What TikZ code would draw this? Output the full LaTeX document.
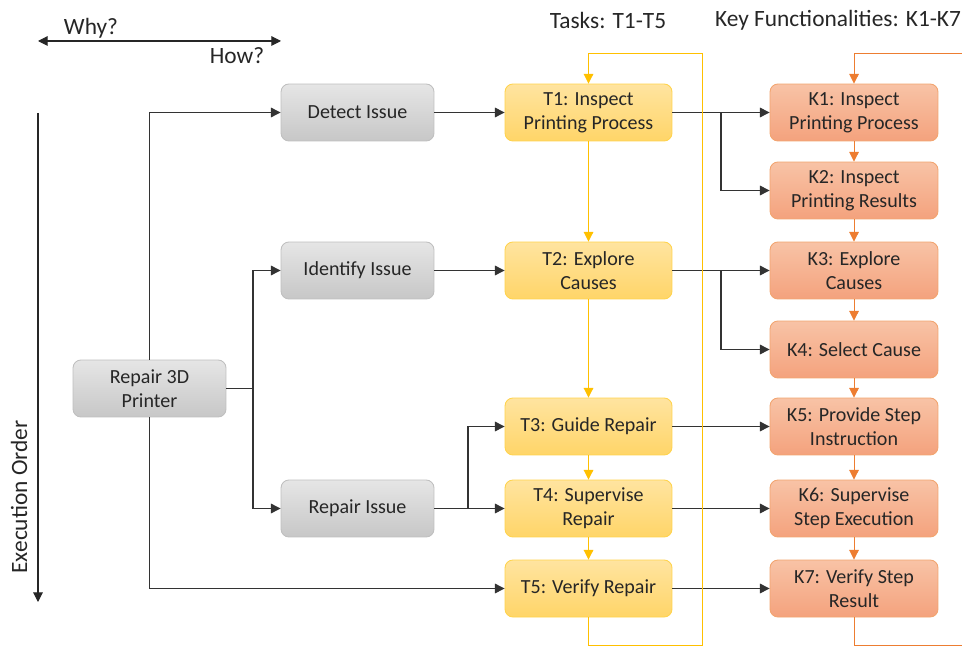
\documentclass[tikz,border=0pt]{standalone}
\usepackage{fontspec}
\setmainfont{Carlito}
\usepackage{tikz}
\usetikzlibrary{arrows.meta}
\tikzset{>={Triangle[length=5.5pt,width=5.5pt]}}

\definecolor{greyedge}{HTML}{BFBFBF}
\definecolor{yedge}{HTML}{FFC000}
\definecolor{oedge}{HTML}{ED7D31}
\definecolor{ytop}{HTML}{FFE4A0}
\definecolor{ybot}{HTML}{FFD568}
\definecolor{otop}{HTML}{F8C3A6}
\definecolor{obot}{HTML}{F4A27D}

\tikzstyle{box} = [rounded corners=4.5pt, align=center, minimum height=1.14cm, inner sep=2pt, line width=0.5pt, font=\fontsize{11.4}{13.6}\selectfont, text=black!85]
\tikzstyle{greybox} = [box, draw=greyedge, top color=black!10, bottom color=black!22, minimum width=3.06cm]
\tikzstyle{taskbox} = [box, draw=yedge!70, top color=ytop, bottom color=ybot, minimum width=3.34cm]
\tikzstyle{keybox} = [box, draw=oedge!70, top color=otop, bottom color=obot, minimum width=3.36cm]
\tikzstyle{link} = [->, line width=0.6pt, black!80]
\tikzstyle{ylink} = [->, line width=0.5pt, yedge]
\tikzstyle{olink} = [->, line width=0.5pt, oedge]
\tikzstyle{label} = [font=\fontsize{13.3}{16}\selectfont, text=black!85]

\begin{document}
\begin{tikzpicture}[x=0.02cm, y=-0.02cm]
	\useasboundingbox (0,0) rectangle (962,648);

	% Goal and subgoals
	\node[greybox] (root) at (149.5,388.5) {Repair 3D\\Printer};
	\node[greybox] (detect) at (357.5,112.5) {Detect Issue};
	\node[greybox] (identify) at (357.5,270.5) {Identify Issue};
	\node[greybox] (repair) at (357.5,508.5) {Repair Issue};

	% Tasks
	\node[taskbox] (t1) at (588.5,112.5) {T1: Inspect\\Printing Process};
	\node[taskbox] (t2) at (588.5,270.5) {T2: Explore\\Causes};
	\node[taskbox] (t3) at (588.5,426.5) {T3: Guide Repair};
	\node[taskbox] (t4) at (588.5,508.5) {T4: Supervise\\Repair};
	\node[taskbox] (t5) at (588.5,588.5) {T5: Verify Repair};

	% Key functionalities
	\node[keybox] (k1) at (854,112.5) {K1: Inspect\\Printing Process};
	\node[keybox] (k2) at (854,190.5) {K2: Inspect\\Printing Results};
	\node[keybox] (k3) at (854,270.5) {K3: Explore\\Causes};
	\node[keybox] (k4) at (854,349.5) {K4: Select Cause};
	\node[keybox] (k5) at (854,426.5) {K5: Provide Step\\Instruction};
	\node[keybox] (k6) at (854,508.5) {K6: Supervise\\Step Execution};
	\node[keybox] (k7) at (854,588.5) {K7: Verify Step\\Result};

	% Headings
	\node[label] (tasks) at (608,20) {Tasks: T1-T5};
	\node[label] (keys) at (838,20) {Key Functionalities: K1-K7};

	% Why / How and execution order
	\coordinate (whyend) at (38,41);
	\coordinate (howend) at (281,41);
	\draw[<->, line width=0.6pt, black!85] (whyend) -- (howend);
	\node[label] (why) at (91,28) {Why?};
	\node[label] (how) at (237,56) {How?};
	\coordinate (exectop) at (38,113);
	\coordinate (execbot) at (38,602);
	\draw[->, line width=0.6pt, black!85] (exectop) -- (execbot);
	\node[label, rotate=90] (exec) at (19,497) {Execution Order};

	% Branch points
	\coordinate (rj) at (253,388.5);
	\coordinate (j1) at (721,112.5);
	\coordinate (j2) at (721,270.5);
	\coordinate (j3) at (468,508.5);

	% Goal tree
	\draw[link] (root.north) |- (detect.west);
	\draw[link] (root.south) |- (t5.west);
	\draw[line width=0.6pt, black!80] (root.east) -- (rj);
	\draw[link] (rj) |- (identify.west);
	\draw[link] (rj) |- (repair.west);
	\draw[link] (detect) -- (t1);
	\draw[link] (identify) -- (t2);
	\draw[link] (repair) -- (t4);
	\draw[link] (j3) |- (t3.west);

	% Tasks to functionalities
	\draw[link] (t1) -- (k1);
	\draw[link] (j1) |- (k2.west);
	\draw[link] (t2) -- (k3);
	\draw[link] (j2) |- (k4.west);
	\draw[link] (t3) -- (k5);
	\draw[link] (t4) -- (k6);
	\draw[link] (t5) -- (k7);

	% Order within each column
	\foreach \a/\b in {t1/t2, t2/t3, t3/t4, t4/t5}
		\draw[ylink] (\a) -- (\b);
	\foreach \a/\b in {k1/k2, k2/k3, k3/k4, k4/k5, k5/k6, k6/k7}
		\draw[olink] (\a) -- (\b);

	% Loops back to the start
	\coordinate (ylb) at (702,645);
	\coordinate (ylt) at (702,53);
	\draw[ylink] (t5.south) |- (ylb) -- (ylt) -| (t1.north);
	\coordinate (olb) at (962,645);
	\coordinate (olt) at (962,53);
	\draw[line width=0.5pt, oedge] (k7.south) |- (olb);
	\draw[olink] (olt) -| (k1.north);
\end{tikzpicture}
\end{document}
